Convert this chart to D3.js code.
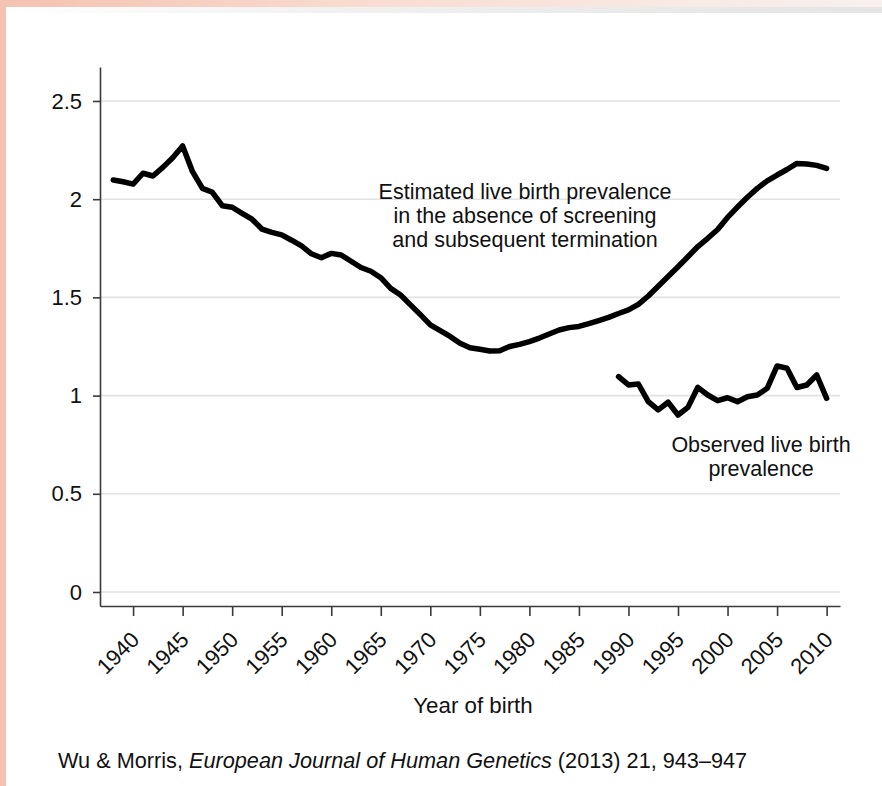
<!DOCTYPE html>
<html>
<head>
<meta charset="utf-8">
<script src="https://cdn.jsdelivr.net/npm/d3@7"></script>
<style>
  html, body { margin: 0; padding: 0; background: #fff; }
  svg { display: block; }
  text { font-family: "Liberation Sans", Arial, sans-serif; fill: #111; }
</style>
</head>
<body>
<svg id="chart" width="882" height="786"></svg>
<script>
// Live birth prevalence per 1,000 births, by year of birth
const estimatedYears = d3.range(1938, 2011);
const estimatedValues = [
  2.098, 2.089, 2.077, 2.132, 2.118, 2.162, 2.211, 2.271, 2.140, 2.055,
  2.035, 1.967, 1.959, 1.928, 1.898, 1.848, 1.831, 1.818, 1.791, 1.762,
  1.722, 1.702, 1.724, 1.716, 1.684, 1.652, 1.633, 1.600, 1.546, 1.512,
  1.462, 1.412, 1.360, 1.331, 1.301, 1.266, 1.244, 1.236, 1.227, 1.228,
  1.250, 1.261, 1.275, 1.293, 1.314, 1.334, 1.346, 1.352, 1.366, 1.382,
  1.398, 1.418, 1.436, 1.464, 1.507, 1.557, 1.606, 1.656, 1.707, 1.759,
  1.801, 1.846, 1.907, 1.960, 2.010, 2.055, 2.093, 2.123, 2.151, 2.182,
  2.179, 2.172, 2.157
];
const observedYears = d3.range(1989, 2011);
const observedValues = [
  1.096, 1.054, 1.059, 0.969, 0.927, 0.966, 0.901, 0.940, 1.042, 1.003,
  0.974, 0.989, 0.969, 0.994, 1.003, 1.037, 1.151, 1.139, 1.041, 1.054,
  1.105, 0.986
];
const xTicks = d3.range(1940, 2011, 5);
const yTicks = [0, 0.5, 1, 1.5, 2, 2.5];
const yTickLabels = ["0", "0.5", "1", "1.5", "2", "2.5"];
const estimatedLabel = ["Estimated live birth prevalence", "in the absence of screening", "and subsequent termination"];
const observedLabel = ["Observed live birth", "prevalence"];
const xTitle = "Year of birth";

const svg = d3.select("#chart");

// page frame: tinted strips along the left and top edges
const defs = svg.append("defs");
const topGrad = defs.append("linearGradient").attr("id", "topGrad");
topGrad.append("stop").attr("offset", "0%").attr("stop-color", "#f4c2b0");
topGrad.append("stop").attr("offset", "45%").attr("stop-color", "#f9ded4");
topGrad.append("stop").attr("offset", "100%").attr("stop-color", "#f7f1ef");
const greyGrad = defs.append("linearGradient").attr("id", "greyGrad");
greyGrad.append("stop").attr("offset", "0%").attr("stop-color", "#e6e6e6").attr("stop-opacity", 0);
greyGrad.append("stop").attr("offset", "40%").attr("stop-color", "#e6e6e6").attr("stop-opacity", 0.6);
greyGrad.append("stop").attr("offset", "100%").attr("stop-color", "#e4e4e4").attr("stop-opacity", 1);

svg.append("rect").attr("x", 0).attr("y", 0).attr("width", 882).attr("height", 7).attr("fill", "url(#topGrad)");
svg.append("rect").attr("x", 6).attr("y", 7).attr("width", 876).attr("height", 6).attr("fill", "url(#greyGrad)");
svg.append("rect").attr("x", 0).attr("y", 0).attr("width", 6).attr("height", 786).attr("fill", "#f4c2b0");

// scales
const x = d3.scaleLinear().domain([1936.66, 2011.35]).range([100, 840]);
const y = d3.scaleLinear().domain([-0.0713, 2.673]).range([606, 67]);

// horizontal grid
svg.append("g")
  .selectAll("line")
  .data(yTicks)
  .join("line")
  .attr("x1", 100).attr("x2", 840)
  .attr("y1", d => y(d)).attr("y2", d => y(d))
  .attr("stroke", "#e2e2e2").attr("stroke-width", 1.6);

// y axis
const yAxis = d3.axisLeft(y)
  .tickValues(yTicks)
  .tickFormat((d, i) => yTickLabels[i])
  .tickSize(7)
  .tickPadding(11)
  .tickSizeOuter(0);
const gy = svg.append("g").attr("transform", "translate(100,0)").call(yAxis);
gy.select(".domain").attr("stroke", "#3a3a3a").attr("stroke-width", 1.6);
gy.selectAll(".tick line").attr("stroke", "#3a3a3a").attr("stroke-width", 1.6);
gy.selectAll(".tick text")
  .attr("font-size", 22)
  .attr("font-family", "Liberation Sans, Arial, sans-serif")
  .attr("fill", "#111");

// x axis
const xAxis = d3.axisBottom(x)
  .tickValues(xTicks)
  .tickFormat(d3.format("d"))
  .tickSize(10)
  .tickSizeOuter(0);
const gx = svg.append("g").attr("transform", "translate(0,606)").call(xAxis);
gx.select(".domain").attr("stroke", "#3a3a3a").attr("stroke-width", 1.6);
gx.selectAll(".tick line").attr("stroke", "#3a3a3a").attr("stroke-width", 1.6);
gx.selectAll(".tick text")
  .attr("font-size", 22)
  .attr("font-family", "Liberation Sans, Arial, sans-serif")
  .attr("fill", "#111")
  .attr("text-anchor", "end")
  .attr("x", 0).attr("y", 0).attr("dy", 0)
  .attr("transform", "translate(7,35) rotate(-45)");

// series lines
const line = d3.line().x(d => x(d[0])).y(d => y(d[1]));
const estimated = estimatedYears.map((yr, i) => [yr, estimatedValues[i]]);
const observed = observedYears.map((yr, i) => [yr, observedValues[i]]);

svg.append("path").datum(estimated)
  .attr("d", line)
  .attr("fill", "none").attr("stroke", "#000")
  .attr("stroke-width", 5.5).attr("stroke-linejoin", "round").attr("stroke-linecap", "round");
svg.append("path").datum(observed)
  .attr("d", line)
  .attr("fill", "none").attr("stroke", "#000")
  .attr("stroke-width", 5.5).attr("stroke-linejoin", "round").attr("stroke-linecap", "round");

// series annotations
svg.append("text")
  .attr("text-anchor", "middle").attr("font-size", 21.5)
  .selectAll("tspan")
  .data(estimatedLabel)
  .join("tspan")
  .attr("x", 525).attr("y", (d, i) => 199 + i * 24)
  .text(d => d);

svg.append("text")
  .attr("text-anchor", "middle").attr("font-size", 21.5)
  .selectAll("tspan")
  .data(observedLabel)
  .join("tspan")
  .attr("x", 761).attr("y", (d, i) => 452 + i * 24)
  .text(d => d);

// axis title
svg.append("text")
  .attr("x", 473).attr("y", 713)
  .attr("text-anchor", "middle").attr("font-size", 22.3)
  .text(xTitle);

// source line
const source = svg.append("text")
  .attr("x", 58).attr("y", 768)
  .attr("font-size", 21.7);
source.append("tspan").text("Wu & Morris, ");
source.append("tspan").attr("font-style", "italic").text("European Journal of Human Genetics");
source.append("tspan").text(" (2013) 21, 943\u2013947");
</script>
</body>
</html>
